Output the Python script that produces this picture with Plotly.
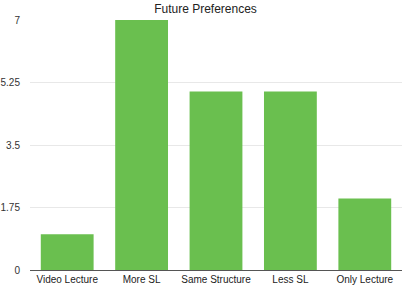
import plotly.graph_objects as go

categories = ["Video Lecture", "More SL", "Same Structure", "Less SL", "Only Lecture"]
values = [1, 7, 5, 5, 2]
y_ticks = [0, 1.75, 3.5, 5.25, 7]
y_tick_labels = ["0", "1.75", "3.5", "5.25", "7"]

fig = go.Figure(go.Bar(x=categories, y=values, marker_color="#6abf4f", marker_line_width=0,
                       hoverinfo="skip"))
fig.update_layout(
    width=403, height=286,
    margin=dict(l=30, r=1, t=20, b=16),
    paper_bgcolor="white", plot_bgcolor="white",
    bargap=0.29,
    showlegend=False,
    font=dict(family="Liberation Sans, Arial", size=10, color="#333"),
    title=dict(text="Future Preferences", x=0.51, xanchor="center", y=0.985, yanchor="top",
               font=dict(size=12, color="#222")),
)
fig.update_xaxes(showgrid=False, showline=True, linecolor="#555", linewidth=1, ticks="",
                 tickfont=dict(size=10, color="#222"))
fig.update_yaxes(range=[0, 7], tickvals=y_ticks, ticktext=y_tick_labels, showgrid=True,
                 gridcolor="#e8e8e8", gridwidth=1, zeroline=False, showline=False, ticks="",
                 tickfont=dict(size=10, color="#333"), ticklabelstandoff=9)
fig.write_html("out.html", config={"displayModeBar": False},
               post_script="document.body.style.margin='0';")
